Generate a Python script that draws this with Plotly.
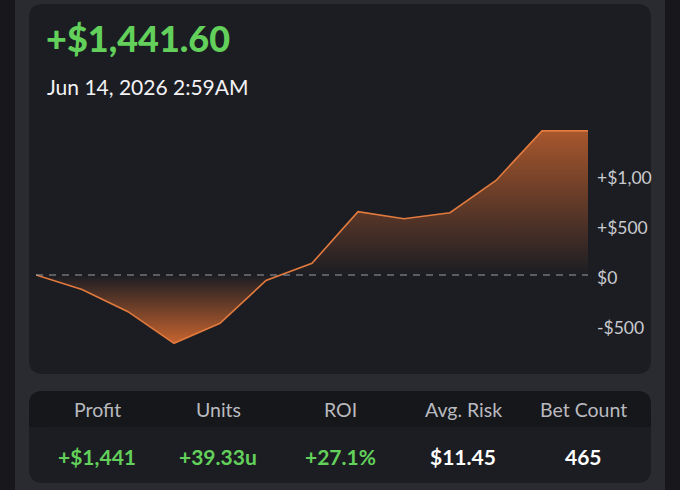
import plotly.graph_objects as go

# cumulative profit curve
points = list(range(13))
profit = [0, -145, -367, -683, -483, -55, 117, 633, 563, 623, 945, 1441.6, 1441.6]

tick_vals = [-500, 0, 500, 1000]
tick_text = ["-$500", "$0", "+$500", "+$1,00"]

headline = "+$1,441.60"
stamp = "Jun 14, 2026 2:59AM"

stat_names = ["Profit", "Units", "ROI", "Avg. Risk", "Bet Count"]
stat_values = ["+$1,441", "+39.33u", "+27.1%", "$11.45", "465"]
stat_green = [True, True, True, False, False]

W, H = 680, 490
L, R, T, B = 36, 92, 110, 120
PW, PH = W - L - R, H - T - B

def px(x):  # pixel -> paper x
    return (x - L) / PW

def py(y):  # pixel -> paper y
    return (H - B - y) / PH

def rounded(x0, y0, x1, y1, r):
    a, b, c, d = px(x0), py(y0), px(x1), py(y1)
    rx, ry = r / PW, r / PH
    return (f"M{a+rx},{b} L{c-rx},{b} Q{c},{b} {c},{b-ry} "
            f"L{c},{d+ry} Q{c},{d} {c-rx},{d} L{a+rx},{d} Q{a},{d} {a},{d+ry} "
            f"L{a},{b-ry} Q{a},{b} {a+rx},{b} Z")

GREEN = "#62d05a"
ORANGE = "rgb(226,122,62)"
FONT = "Lato"

lo, hi = min(profit), max(profit)
z = (0 - lo) / (hi - lo)

fig = go.Figure()
fig.add_trace(go.Scatter(
    x=points, y=profit, mode="lines", fill="tozeroy",
    line=dict(color=ORANGE, width=1.6),
    fillgradient=dict(
        type="vertical", start=lo, stop=hi,
        colorscale=[[0, "rgba(214,106,48,0.92)"], [z, "rgba(214,106,48,0)"],
                    [1, "rgba(214,106,48,0.75)"]]),
    hoverinfo="skip", showlegend=False))

shapes = [
    dict(type="rect", xref="paper", yref="paper", x0=px(0), x1=px(15), y0=py(H), y1=py(0),
         fillcolor="#18181c", line_width=0, layer="below"),
    dict(type="rect", xref="paper", yref="paper", x0=px(665), x1=px(W), y0=py(H), y1=py(0),
         fillcolor="#18181c", line_width=0, layer="below"),
    dict(type="path", xref="paper", yref="paper", path=rounded(29, 4, 651, 374, 14),
         fillcolor="#1c1d23", line_width=0, layer="below"),
    dict(type="path", xref="paper", yref="paper", path=rounded(29, 391, 651, 483, 14),
         fillcolor="#1c1d23", line_width=0, layer="below"),
    dict(type="rect", xref="paper", yref="paper", x0=px(29), x1=px(651), y0=py(427), y1=py(405),
         fillcolor="#16171b", line_width=0, layer="below"),
    dict(type="path", xref="paper", yref="paper", path=rounded(29, 391, 651, 427, 14),
         fillcolor="#16171b", line_width=0, layer="below"),
    dict(type="line", xref="x", yref="y", x0=points[0], x1=points[-1], y0=0, y1=0,
         line=dict(color="#9c9da2", width=1.2, dash="7px,6px")),
]

ann = [
    dict(x=px(44), y=py(38), text=headline, xanchor="left", yanchor="middle",
         font=dict(size=36, color=GREEN, family=FONT, weight=900)),
    dict(x=px(45), y=py(86), text=stamp, xanchor="left", yanchor="middle",
         font=dict(size=21, color="#f2f2f4", family=FONT)),
]
centers = [97, 218, 340, 463, 583]
for cx, name, val, g in zip(centers, stat_names, stat_values, stat_green):
    ann.append(dict(x=px(cx), y=py(409), text=name, xanchor="center", yanchor="middle",
                    font=dict(size=19.5, color="#b9babf", family=FONT)))
    ann.append(dict(x=px(cx), y=py(456), text=f"<b>{val}</b>", xanchor="center", yanchor="middle",
                    font=dict(size=21, color=GREEN if g else "#ffffff", family=FONT)))
for a in ann:
    a.update(xref="paper", yref="paper", showarrow=False)

fig.update_layout(
    width=W, height=H, margin=dict(l=L, r=R, t=T, b=B),
    paper_bgcolor="#2a2b31", plot_bgcolor="rgba(0,0,0,0)",
    shapes=shapes, annotations=ann,
    xaxis=dict(range=[points[0], points[-1]], visible=False, fixedrange=True),
    yaxis=dict(range=[-950, 1650], side="right", tickvals=tick_vals, ticktext=tick_text,
               showgrid=False, zeroline=False, showline=False, ticks="",
               ticklabelstandoff=8, ticklabelshift=3,
               tickfont=dict(size=17.5, color="#c9cace", family=FONT),
               fixedrange=True),
    font=dict(family=FONT),
)

fig.write_html("out.html", config={"displayModeBar": False})

# drop the browser's default body margin so the figure sits at the page corner
with open("out.html", encoding="utf-8") as f:
    page = f.read()
page = page.replace("<head>", "<head><style>html,body{margin:0;padding:0;background:#2a2b31;overflow:hidden}</style>", 1)
with open("out.html", "w", encoding="utf-8") as f:
    f.write(page)
